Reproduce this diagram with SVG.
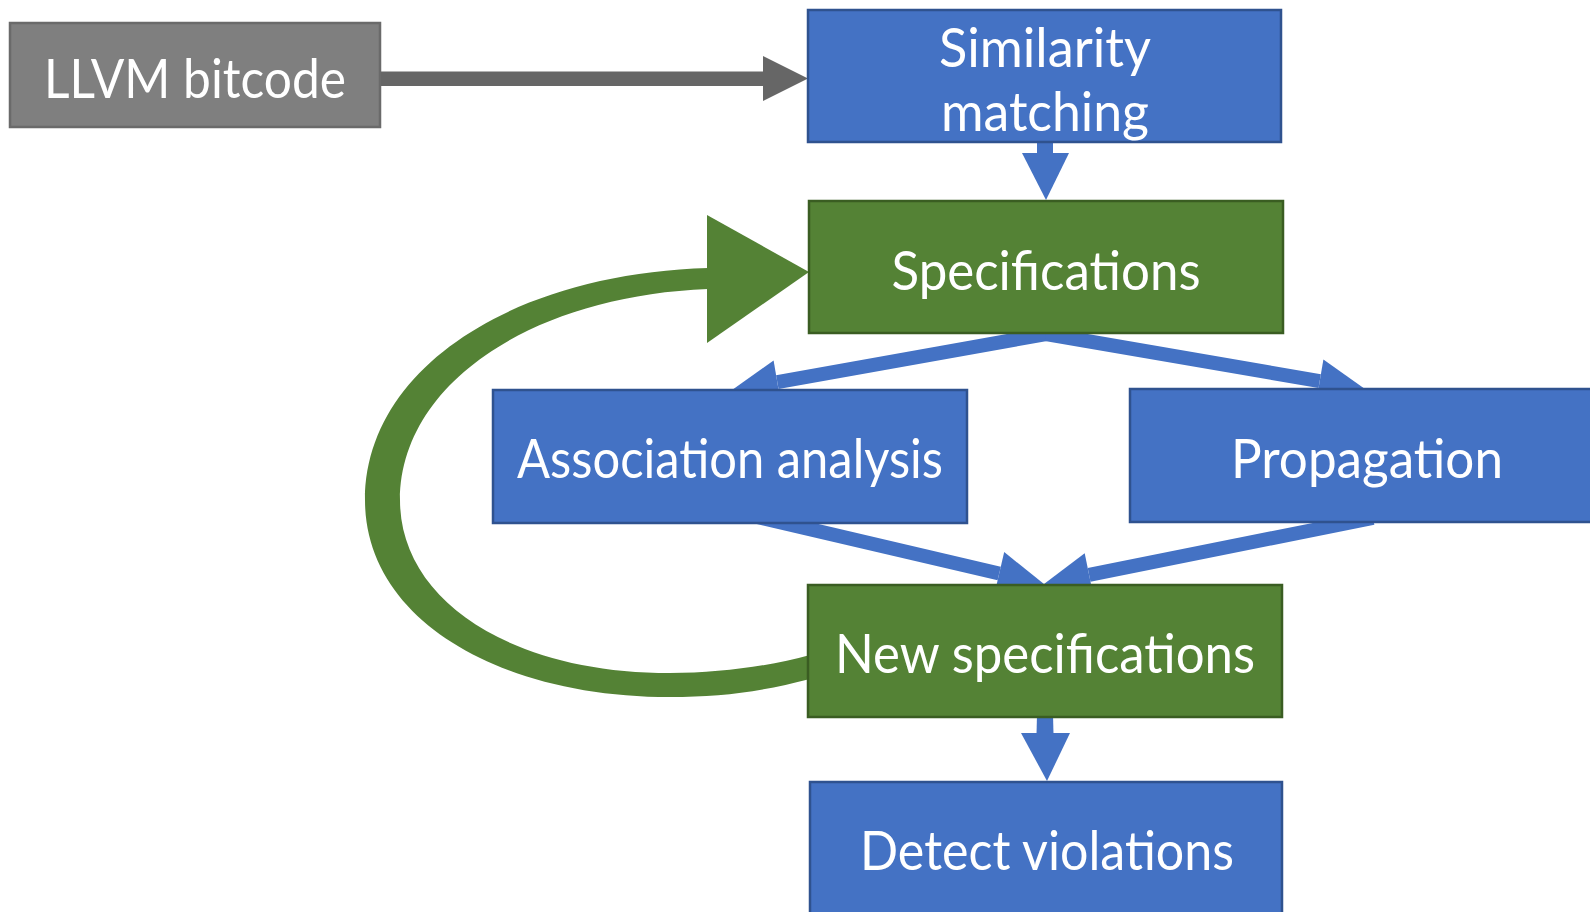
<svg xmlns="http://www.w3.org/2000/svg" width="1590" height="912" viewBox="0 0 1590 912">
<style>
.blue{fill:#4472C4;stroke:#2F528F;stroke-width:2.5}
.green{fill:#548235;stroke:#3A5D22;stroke-width:2.5}
.grey{fill:#7F7F7F;stroke:#6A6A6A;stroke-width:2.5}
.lbl{font-family:Lato,"Open Sans","Liberation Sans",sans-serif;font-size:54px;fill:#FFFFFF;text-anchor:middle}
.bl{stroke:#4472C4;stroke-width:14;fill:none}
.bh{fill:#4472C4}
</style>
<rect width="1590" height="912" fill="#FFFFFF"/>
<g id="connectors">
  <rect x="379" y="71.5" width="386" height="14.5" fill="#666666"/>
  <polygon points="763,56 808,78.5 763,101" fill="#666666"/>
  <rect x="1037" y="140" width="16" height="14" class="bh"/>
  <polygon points="1022,153 1069,153 1046,200" class="bh"/>
  <line x1="1046" y1="334" x2="777.3" y2="382.2" class="bl"/>
  <polygon points="732,390 781,404 773.6,360.5" class="bh"/>
  <line x1="1046" y1="334" x2="1319.7" y2="381.2" class="bl"/>
  <polygon points="1365,389 1316,402.9 1323.4,359.5" class="bh"/>
  <line x1="730" y1="510.5" x2="999.2" y2="573.5" class="bl" stroke-width="15.5"/>
  <polygon points="1044,584 994.2,594.9 1004.2,552.1" class="bh"/>
  <line x1="1373" y1="518" x2="1089.1" y2="574.8" class="bl" stroke-width="15.5"/>
  <polygon points="1044,584 1093.5,596.4 1084.7,553.2" class="bh"/>
  <polygon points="1037,715 1053,715 1053.5,734 1036.5,734" class="bh"/>
  <polygon points="1021,733 1070,733 1047,781" class="bh"/>
  <path d="M 810 679 C 760 692 720 697 670 697 C 500 697 365 620 365 500 C 365 370 510 274 708 268 L 708 289 C 530 296 400 385 400 500 C 400 600 510 673 670 673 C 720 673 770 666 810 655 Z" fill="#548235"/>
  <polygon points="707,215 809,272 707,343" fill="#548235"/>
</g>
<g id="llvm">
  <rect x="10" y="23" width="370" height="104" class="grey"/>
  <text x="195" y="98" class="lbl" textLength="302" lengthAdjust="spacingAndGlyphs">LLVM bitcode</text>
</g>
<g id="similarity">
  <rect x="808" y="10" width="473" height="132" class="blue"/>
  <text x="1045" y="67" class="lbl" textLength="212" lengthAdjust="spacingAndGlyphs">Similarity</text>
  <text x="1045" y="131" class="lbl" textLength="208" lengthAdjust="spacingAndGlyphs">matching</text>
</g>
<g id="specifications">
  <rect x="809" y="201" width="474" height="132" class="green"/>
  <text x="1046" y="290" class="lbl" textLength="309" lengthAdjust="spacingAndGlyphs">Specifications</text>
</g>
<g id="association">
  <rect x="493" y="390" width="474" height="133" class="blue"/>
  <text x="730" y="478" class="lbl" textLength="426" lengthAdjust="spacingAndGlyphs">Association analysis</text>
</g>
<g id="propagation">
  <rect x="1130" y="389" width="474" height="133" class="blue"/>
  <text x="1367" y="478" class="lbl" textLength="272" lengthAdjust="spacingAndGlyphs">Propagation</text>
</g>
<g id="newspec">
  <rect x="808" y="585" width="474" height="132" class="green"/>
  <text x="1045" y="673" class="lbl" textLength="420" lengthAdjust="spacingAndGlyphs">New specifications</text>
</g>
<g id="detect">
  <rect x="810" y="782" width="472" height="140" class="blue"/>
  <text x="1047" y="870" class="lbl" textLength="374" lengthAdjust="spacingAndGlyphs">Detect violations</text>
</g>
</svg>
